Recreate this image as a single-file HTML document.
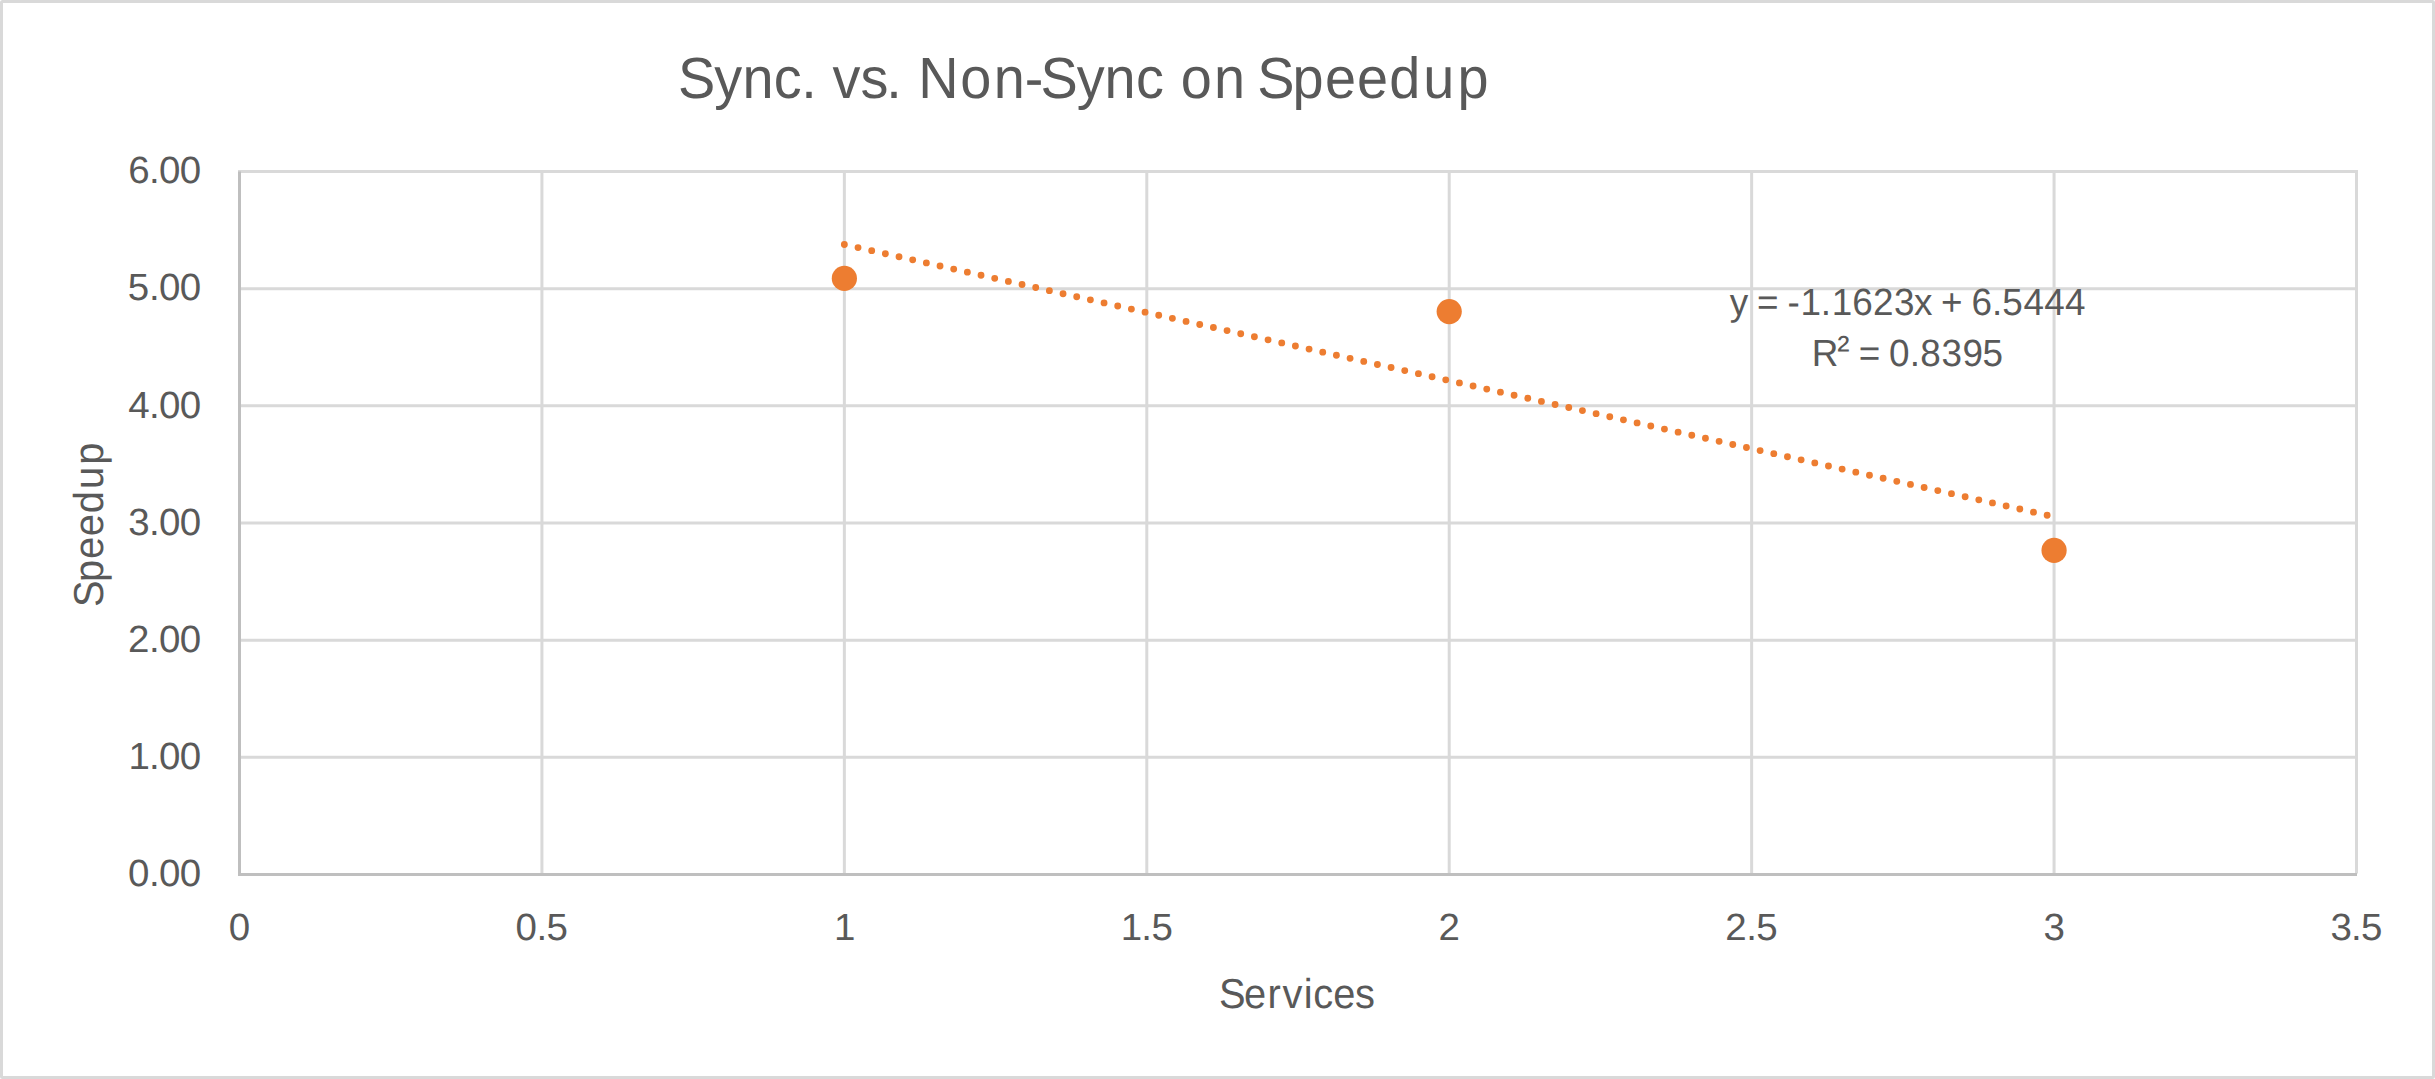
<!DOCTYPE html><html><head><meta charset="utf-8"><title>Sync. vs. Non-Sync on Speedup</title><style>html,body{margin:0;padding:0;background:#fff;width:2435px;height:1079px;overflow:hidden}svg{display:block}text{font-family:"Liberation Sans", Arial, sans-serif;fill:#595959;text-rendering:geometricPrecision}</style></head><body>
<svg width="2435" height="1079" viewBox="0 0 2435 1079">
<rect x="0" y="0" width="2435" height="1079" fill="#fff"/>
<rect x="1.5" y="1.5" width="2432" height="1076" rx="1" fill="none" stroke="#d9d9d9" stroke-width="3"/>
<path d="M238.00 757.27H2358.00M238.00 640.13H2358.00M238.00 523.00H2358.00M238.00 405.87H2358.00M238.00 288.73H2358.00M238.00 171.60H2358.00M541.93 170.10V873.40M844.36 170.10V873.40M1146.79 170.10V873.40M1449.21 170.10V873.40M1751.64 170.10V873.40M2054.07 170.10V873.40M2356.50 170.10V873.40" stroke="#d9d9d9" stroke-width="3" fill="none"/>
<path d="M239.50 171.60V875.90M238.00 874.40H2357.00" stroke="#bfbfbf" stroke-width="3" fill="none"/>
<line x1="844.36" y1="244.48" x2="2054.07" y2="516.76" stroke="#ed7d31" stroke-width="6.86" stroke-linecap="round" stroke-dasharray="0 14.01"/>
<circle cx="844.36" cy="278.43" r="12.6" fill="#ed7d31"/>
<circle cx="1449.21" cy="311.57" r="12.6" fill="#ed7d31"/>
<circle cx="2054.07" cy="550.41" r="12.6" fill="#ed7d31"/>
<text transform="scale(0.9629 1)" y="97.80" font-size="58.0"><tspan x="704.17 741.65 771.07 803.59 832.14">Sync.</tspan> <tspan x="864.63 893.54 920.41">vs.</tspan> <tspan x="953.65 997.15 1032.07 1064.12 1080.71 1118.20 1147.07 1179.77">Non-Sync</tspan> <tspan x="1226.30 1260.90">on</tspan> <tspan x="1305.72 1342.42 1376.10 1409.22 1442.71 1477.97 1513.59">Speedup</tspan></text>
<text transform="scale(1.0189 1)" y="886.10" font-size="37.8"><tspan x="125.69 146.13 156.08 176.37">0.00</tspan></text>
<text transform="scale(1.0189 1)" y="768.97" font-size="37.8"><tspan x="126.00 146.13 156.08 176.37">1.00</tspan></text>
<text transform="scale(1.0189 1)" y="651.83" font-size="37.8"><tspan x="125.74 146.13 156.08 176.37">2.00</tspan></text>
<text transform="scale(1.0189 1)" y="534.70" font-size="37.8"><tspan x="125.97 146.13 156.08 176.37">3.00</tspan></text>
<text transform="scale(1.0189 1)" y="417.57" font-size="37.8"><tspan x="125.82 146.13 156.08 176.37">4.00</tspan></text>
<text transform="scale(1.0189 1)" y="300.43" font-size="37.8"><tspan x="125.45 146.13 156.08 176.37">5.00</tspan></text>
<text transform="scale(1.0189 1)" y="183.30" font-size="37.8"><tspan x="125.77 146.13 156.08 176.37">6.00</tspan></text>
<text transform="scale(1.0189 1)" y="939.50" font-size="37.8"><tspan x="224.54">0</tspan></text>
<text transform="scale(1.0189 1)" y="939.50" font-size="37.8"><tspan x="506.03 526.59 536.42">0.5</tspan></text>
<text transform="scale(1.0189 1)" y="939.50" font-size="37.8"><tspan x="818.47">1</tspan></text>
<text transform="scale(1.0189 1)" y="939.50" font-size="37.8"><tspan x="1099.97 1120.20 1130.04">1.5</tspan></text>
<text transform="scale(1.0189 1)" y="939.50" font-size="37.8"><tspan x="1411.82">2</tspan></text>
<text transform="scale(1.0189 1)" y="939.50" font-size="37.8"><tspan x="1693.31 1713.82 1723.65">2.5</tspan></text>
<text transform="scale(1.0189 1)" y="939.50" font-size="37.8"><tspan x="2005.66">3</tspan></text>
<text transform="scale(1.0189 1)" y="939.50" font-size="37.8"><tspan x="2287.16 2307.44 2317.27">3.5</tspan></text>
<text transform="scale(0.9535 1)" y="1008.30" font-size="41.8"><tspan x="1278.38 1304.69 1329.36 1345.11 1367.30 1377.23 1398.27 1420.98">Services</tspan></text>
<text transform="scale(0.9755 1)" y="315.00" font-size="37.8"><tspan x="1773.28 1792.18 1801.26 1823.33 1832.45 1845.69 1866.55 1877.65 1898.71 1920.01 1941.58 1962.13 1981.03 1989.65 2011.73 2020.94 2042.07 2052.56 2074.27 2095.61 2116.94">y = -1.1623x + 6.5444</tspan></text>
<text transform="scale(0.9755 1)" y="366.10" font-size="37.8"><tspan x="1857.14 1883.53 1896.12 1905.33 1927.40 1936.55 1957.78 1968.53 1990.17 2011.87 2032.33" dy="0 -3.8 3.8">R² = 0.8395</tspan></text>
<text transform="translate(102.5 602.9) rotate(-90) scale(0.9535 1)" y="0" font-size="41.8"><tspan x="-4.42 21.94 46.15 69.94 94.01 119.34 144.93">Speedup</tspan></text>
</svg></body></html>
